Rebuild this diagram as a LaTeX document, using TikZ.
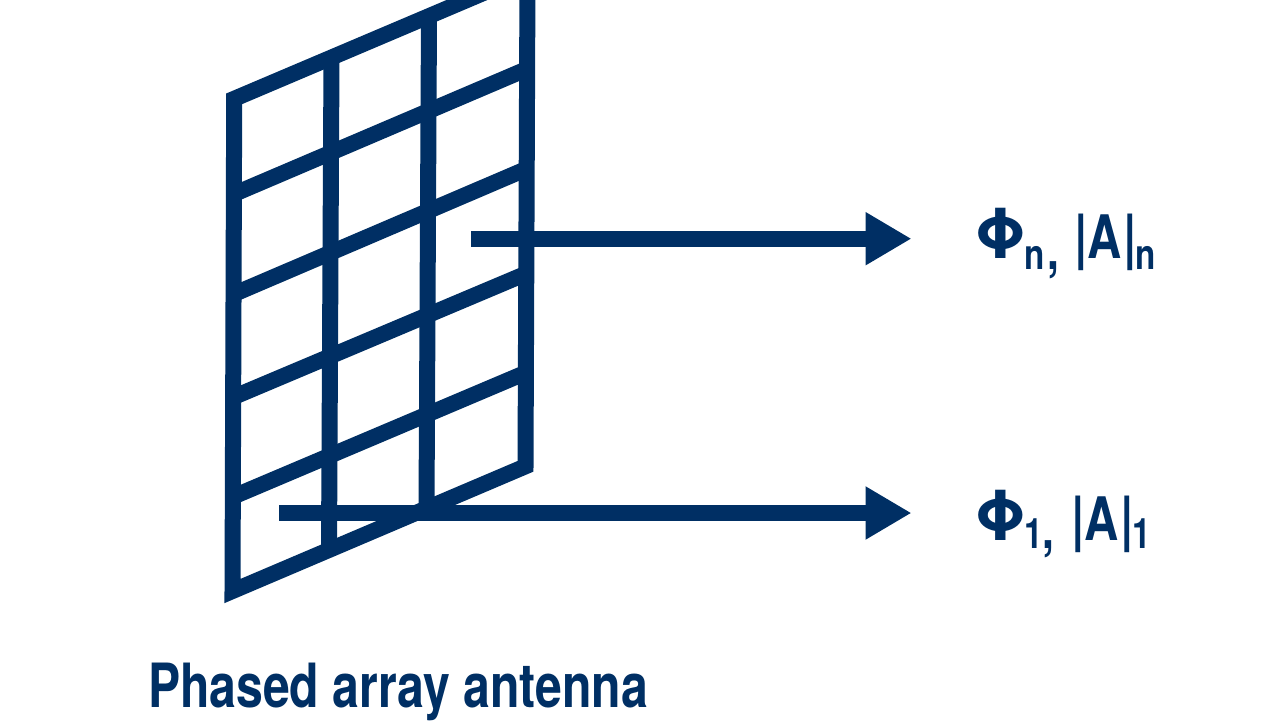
\documentclass[tikz,border=0pt]{standalone}
\usepackage{fontspec}
\usetikzlibrary{arrows.meta}
\setmainfont{TeX Gyre Heros}
\newfontfamily\capfont[FakeStretch=0.79]{TeX Gyre Heros Bold}
\newfontfamily\symfont[FakeStretch=1.0]{TeX Gyre Heros Bold}
\definecolor{navy}{HTML}{002F64}
\tikzset{
  gridline/.style={draw=navy,line width=16pt,miter limit=10},
  signal/.style={draw=navy,line width=16pt,-{Triangle[length=46pt,width=50pt]},shorten >=62.5pt},
  mark label/.style={text=navy,inner sep=0pt,outer sep=0pt,anchor=base west},
  caption/.style={text=navy,inner sep=0pt,outer sep=0pt,anchor=base west}
}
\newcommand{\Ph}{{\fontsize{69}{69}\symfont Φ}}
\newcommand{\Ab}[1]{{\fontsize{60}{60}\capfont #1}}
\newcommand{\Bar}{{\fontsize{61}{61}\capfont |}}
\newcommand{\Sb}[2]{\raisebox{#1}{\fontsize{42}{42}\capfont #2}}
\newcommand{\Cm}{{\fontsize{54}{54}\capfont ,}}
\begin{document}
\begin{tikzpicture}[x=1pt,y=-1pt]
\useasboundingbox (0,0) rectangle (1280,721);
\clip (0,0) rectangle (1280,721);
% frame
\coordinate (tl) at (234.2,98.8);
\coordinate (bl) at (232.5,591);
\coordinate (br) at (525.5,466.3);
\coordinate (tr) at (527.5,-25.7);
\draw[gridline] (tl) -- (bl) -- (br) -- (tr) -- cycle;
% columns
\coordinate (c1t) at (331.5,57);
\coordinate (c1b) at (329,550);
\coordinate (c2t) at (429,15);
\coordinate (c2b) at (426.5,508);
\draw[gridline] (c1t) -- (c1b);
\draw[gridline] (c2t) -- (c2b);
% rows
\coordinate (r1l) at (234,194);
\coordinate (r1r) at (527,69);
\coordinate (r2l) at (234,294);
\coordinate (r2r) at (527,168.7);
\coordinate (r3l) at (233,397.3);
\coordinate (r3r) at (526,273.7);
\coordinate (r4l) at (233,496.7);
\coordinate (r4r) at (526,372.6);
\draw[gridline] (r1l) -- (r1r);
\draw[gridline] (r2l) -- (r2r);
\draw[gridline] (r3l) -- (r3r);
\draw[gridline] (r4l) -- (r4r);
% labels
\node[mark label] (labn) at (974,258.5) {\Ph\hspace{-2.5pt}\Sb{-10.8pt}{n\hspace{3pt}\Cm}\hspace{15pt}\Bar\Ab{A}\hspace{1.5pt}\Bar\hspace{-1pt}\Sb{-10.8pt}{n}};
\node[mark label] (lab1) at (974,540) {\Ph\hspace{-2.5pt}\Sb{-8.3pt}{1\hspace{0pt}\Cm}\hspace{17pt}\Bar\Ab{A}\hspace{1.5pt}\Bar\hspace{-2pt}\Sb{-8.3pt}{1}};
\node[caption] (cap) at (148,707) {\fontsize{61}{61}\capfont Phased array antenna};
% arrows
\coordinate (sn) at (471,238.7);
\coordinate (s1) at (279.3,513);
\draw[signal] (sn) -- (sn -| labn.west);
\draw[signal] (s1) -- (s1 -| lab1.west);
\end{tikzpicture}
\end{document}
